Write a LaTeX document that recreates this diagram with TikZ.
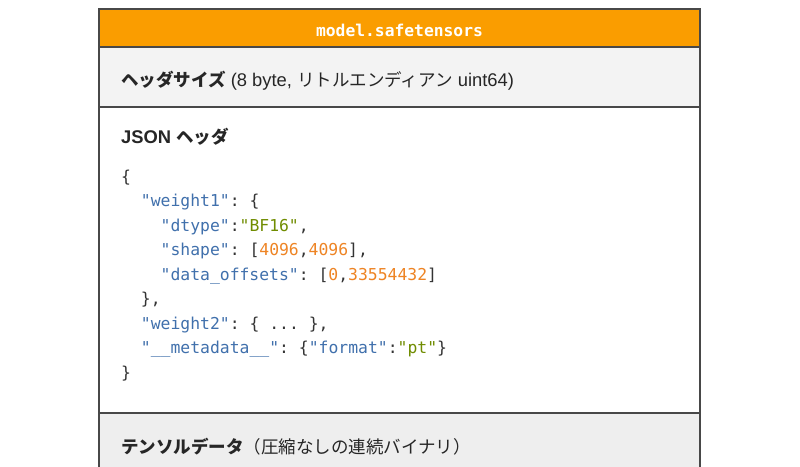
\documentclass[tikz,border=0pt]{standalone}
\usepackage{fontspec}
\setmainfont[Scale=1.05]{Liberation Sans}
\setmonofont{DejaVu Sans Mono}
\newfontfamily\jpfont{Noto Sans CJK JP}
\usetikzlibrary{positioning}
\usepackage{xcolor}

\definecolor{barorange}{RGB}{250,157,0}
\definecolor{framegray}{RGB}{72,72,72}
\definecolor{hdrfill}{RGB}{243,243,243}
\definecolor{datafill}{RGB}{238,238,238}
\definecolor{codegray}{RGB}{51,51,51}
\definecolor{keyblue}{RGB}{64,112,172}
\definecolor{strgreen}{RGB}{112,140,0}
\definecolor{numorange}{RGB}{238,132,36}

\newcommand{\jkey}[1]{\textcolor{keyblue}{#1}}
\newcommand{\jstr}[1]{\textcolor{strgreen}{#1}}
\newcommand{\jnum}[1]{\textcolor{numorange}{#1}}

\tikzset{
  row/.style={draw=framegray, line width=2pt, minimum width=601pt, inner sep=0pt, outer sep=0pt},
  rowtitle/.style={anchor=base west, inner sep=0pt, text=black!85, font=\fontsize{17.5}{20}\selectfont},
  codetxt/.style={anchor=base west, inner sep=0pt, text=codegray, font=\ttfamily\fontsize{16.4}{20}\selectfont},
}

\begin{document}
\begin{tikzpicture}[x=1pt, y=-1pt]
  \useasboundingbox (0,0) rectangle (800,466);
  \clip (0,0) rectangle (800,466);

  \node[row, fill=barorange, minimum height=38pt, anchor=north west] (title) at (99,9) {};
  \node[row, fill=hdrfill, minimum height=60pt, below=0pt of title] (hdrsize) {};
  \node[row, fill=white, minimum height=306pt, below=0pt of hdrsize] (json) {};
  \node[row, fill=datafill, minimum height=60pt, below=0pt of json] (tensors) {};

  \node[text=white, font=\ttfamily\bfseries\fontsize{16.3}{20}\selectfont, anchor=base] (titletext)
    at ([yshift=-8pt]title.center) {model.safetensors};

  \node[rowtitle] (hdrtext) at (121,86)
    {{\jpfont\bfseries ヘッダサイズ} (8 byte, {\jpfont リトルエンディアン} uint64)};
  \node[rowtitle] (jsontext) at (121,143) {\bfseries JSON {\jpfont ヘッダ}};
  \node[rowtitle] (datatext) at (121,453)
    {{\jpfont\bfseries テンソルデータ}{\jpfont （圧縮なしの連続バイナリ）}};

  % JSON body, one node per line
  \def\cw{9.86}
  \foreach \ind/\txt [count=\i from 0] in {
      0/{\{},
      2/{\jkey{"weight1"}: \{},
      4/{\jkey{"dtype"}:\jstr{"BF16"},},
      4/{\jkey{"shape"}: [\jnum{4096},\jnum{4096}],},
      4/{\jkey{"data\_offsets"}: [\jnum{0},\jnum{33554432}]},
      2/{\},},
      2/{\jkey{"weight2"}: \{ ... \},},
      2/{\jkey{"\_\_metadata\_\_"}: \{\jkey{"format"}:\jstr{"pt"}\}},
      0/{\}}}
    \node[codetxt] (code\i) at (121+\ind*\cw, 182+\i*24.5) {\txt};
\end{tikzpicture}
\end{document}
